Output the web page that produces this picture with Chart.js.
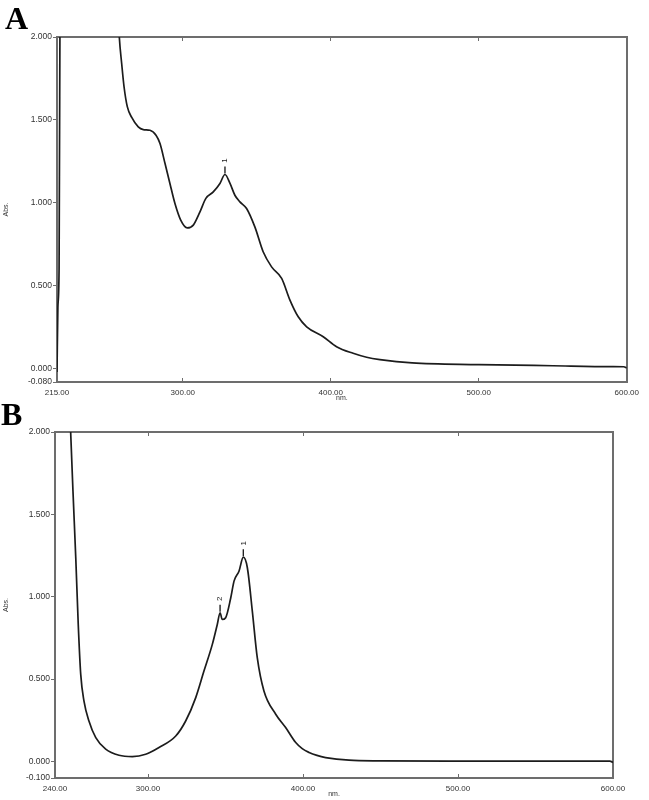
<!DOCTYPE html>
<html><head><meta charset="utf-8">
<script src="https://cdn.jsdelivr.net/npm/chart.js@4.4.0/dist/chart.umd.min.js"></script>
<style>
html,body{margin:0;padding:0;background:#fff;width:649px;height:800px;overflow:hidden;}
.wrap{position:absolute;left:0;width:649px;}
#wa{top:0;height:404px;}
#wb{top:400px;height:400px;}
.lbl{position:absolute;font-family:"Liberation Serif","DejaVu Serif",serif;font-weight:bold;font-size:32px;color:#000;line-height:1;}
</style></head><body>
<div class="wrap" id="wa"><canvas id="ca" width="649" height="404"></canvas></div>
<div class="wrap" id="wb"><canvas id="cb" width="649" height="400"></canvas></div>
<div class="lbl" style="left:5px;top:2px">A</div>
<div class="lbl" style="left:1px;top:398px">B</div>
<script>
// ---- Panel A data ----
const nmA  = [215, 215.6, 216.4, 217.2, 218, 230, 250, 255, 257.1, 258.7, 260.3, 262.5, 265.5, 269.9, 273.3, 277.8, 281.9, 284.6, 288, 291.3, 294.7, 298.6, 303, 307.1, 311.6, 315.6, 320.6, 325.1, 328.5, 331.9, 335.2, 338.6, 343.1, 348.7, 354.3, 360, 366.8, 372.4, 378, 383.7, 394.9, 403.9, 415.1, 424.2, 433.2, 455, 500, 550, 590, 598, 600];
const absA = [-0.02, 0.37, 0.6, 2.6, 3.0, 3.2, 3.0, 2.4, 2.0, 1.84, 1.70, 1.58, 1.515, 1.458, 1.442, 1.438, 1.408, 1.358, 1.237, 1.117, 0.996, 0.896, 0.849, 0.866, 0.946, 1.027, 1.066, 1.117, 1.171, 1.117, 1.046, 1.006, 0.966, 0.855, 0.705, 0.614, 0.545, 0.414, 0.313, 0.253, 0.193, 0.133, 0.093, 0.069, 0.055, 0.035, 0.025, 0.018, 0.013, 0.012, 0.004];
const xTicksA = [215, 300, 400, 500, 600];
const yTicksA = [-0.08, 0, 0.5, 1, 1.5, 2];
const peakNmA = [328.5];
const peakAbsA = [1.171];
const peakLabelA = ['1'];

// ---- Panel B data ----
const nmB  = [245, 248, 250.1, 251.6, 253.4, 255, 256.6, 258.7, 261.9, 266.3, 272.7, 281.3, 289.9, 298.5, 307.1, 317.9, 324.3, 330.8, 336.1, 341.5, 344.7, 346.5, 347.9, 350.1, 353.4, 355.5, 358.7, 361.5, 364.1, 367.3, 370.5, 374.8, 382.4, 388.8, 395.3, 399.5, 403.9, 409, 414.6, 429.7, 450, 500, 550, 598, 600];
const absB = [3.2, 2.5, 2.0, 1.64, 1.236, 0.832, 0.529, 0.367, 0.246, 0.145, 0.075, 0.038, 0.030, 0.044, 0.085, 0.155, 0.246, 0.388, 0.549, 0.711, 0.832, 0.903, 0.862, 0.873, 0.994, 1.095, 1.155, 1.24, 1.176, 0.913, 0.630, 0.428, 0.287, 0.206, 0.115, 0.078, 0.055, 0.037, 0.024, 0.008, 0.004, 0.002, 0.002, 0.002, -0.005];
const xTicksB = [240, 300, 400, 500, 600];
const yTicksB = [-0.1, 0, 0.5, 1, 1.5, 2];
const peakNmB = [361.5, 346.5];
const peakAbsB = [1.24, 0.903];
const peakLabelB = ['1', '2'];

const AXIS = '#6d6d6d';
const TXT = '#333';
const FONT = 'Liberation Sans';

const peakPlugin = {
  id: 'peaks',
  afterDatasetsDraw(chart, args, opts) {
    const ctx = chart.ctx, x = chart.scales.x, y = chart.scales.y;
    (opts.nm || []).forEach((n, i) => {
      const px = x.getPixelForValue(n), py = y.getPixelForValue(opts.abs[i]);
      ctx.save();
      ctx.strokeStyle = '#222'; ctx.lineWidth = 1.4;
      ctx.beginPath(); ctx.moveTo(px, py - 1); ctx.lineTo(px, py - 8); ctx.stroke();
      ctx.translate(px, py - 14); ctx.rotate(-Math.PI / 2);
      ctx.font = '8px ' + FONT; ctx.fillStyle = '#222';
      ctx.textAlign = 'center'; ctx.textBaseline = 'middle';
      ctx.fillText(opts.label[i], 0, 0);
      ctx.restore();
    });
  }
};

function makeChart(id, nm, ab, xTicks, yTicks, area, canvasH, pk) {
  const xMin = xTicks[0], xMax = xTicks[xTicks.length - 1];
  const yMin = yTicks[0], yMax = yTicks[yTicks.length - 1];
  return new Chart(document.getElementById(id), {
    type: 'line',
    data: { datasets: [{
      data: nm.map((v, i) => ({ x: v, y: ab[i] })),
      borderColor: '#1c1c1c', borderWidth: 1.7, pointRadius: 0, fill: false,
      cubicInterpolationMode: 'monotone'
    }]},
    options: {
      responsive: false, animation: false, events: [],
      layout: { padding: { left: 0, top: area.top, right: 649 - area.right, bottom: 0 } },
      plugins: { legend: { display: false }, tooltip: { enabled: false }, peaks: pk },
      scales: {
        x: {
          type: 'linear', position: 'bottom', min: xMin, max: xMax,
          afterBuildTicks: s => { s.ticks = xTicks.map(v => ({ value: v })); },
          afterFit: s => { s.height = canvasH - area.bottom; },
          ticks: { callback: v => Number(v).toFixed(2), font: { size: 8, family: FONT }, color: TXT, padding: 10, maxRotation: 0, autoSkip: false },
          grid: { drawOnChartArea: false, tickLength: -4, color: AXIS, lineWidth: 1 },
          border: { color: AXIS, width: 2 },
          title: { display: true, text: 'nm.', font: { size: 7, family: FONT }, color: TXT, padding: { top: 0, bottom: 2 } }
        },
        x2: {
          type: 'linear', position: 'top', min: xMin, max: xMax,
          afterBuildTicks: s => { s.ticks = xTicks.map(v => ({ value: v })); },
          afterFit: s => { s.height = 0; },
          ticks: { display: false },
          grid: { drawOnChartArea: false, tickLength: -4, color: AXIS, lineWidth: 1 },
          border: { color: AXIS, width: 2 }
        },
        y: {
          type: 'linear', position: 'left', min: yMin, max: yMax,
          afterBuildTicks: s => { s.ticks = yTicks.map(v => ({ value: v })); },
          afterFit: s => { s.width = area.left; },
          ticks: { callback: v => Number(v).toFixed(3), font: { size: 8.5, family: FONT }, color: TXT, padding: 1, autoSkip: false },
          grid: { drawOnChartArea: false, tickLength: 4, color: AXIS, lineWidth: 1 },
          border: { color: AXIS, width: 2 },
          title: { display: true, text: 'Abs.', font: { size: 7, family: FONT }, color: TXT, padding: { top: 2, bottom: 0 } }
        },
        y2: {
          type: 'linear', position: 'right', min: yMin, max: yMax,
          afterFit: s => { s.width = 0; },
          ticks: { display: false },
          grid: { display: false },
          border: { color: AXIS, width: 2 }
        }
      }
    },
    plugins: [peakPlugin]
  });
}

makeChart('ca', nmA, absA, xTicksA, yTicksA, { left: 57, right: 627, top: 37, bottom: 382 }, 404,
  { nm: peakNmA, abs: peakAbsA, label: peakLabelA });
makeChart('cb', nmB, absB, xTicksB, yTicksB, { left: 55, right: 613, top: 32, bottom: 378 }, 400,
  { nm: peakNmB, abs: peakAbsB, label: peakLabelB });
</script>
</body></html>
